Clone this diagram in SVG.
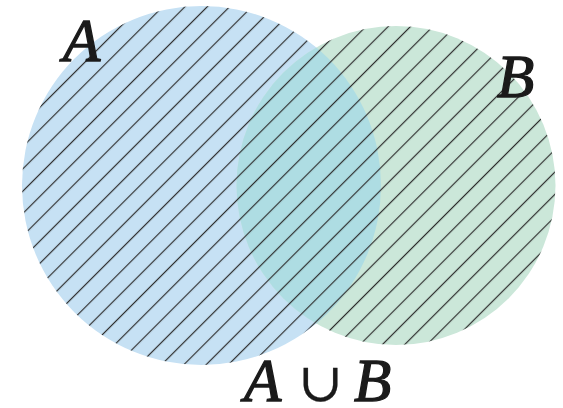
<svg xmlns="http://www.w3.org/2000/svg" width="563" height="408" viewBox="0 0 563 408">
  <style>
    .lbl { font-family: "Liberation Serif", "DejaVu Serif", serif; font-style: italic; font-size: 61px; fill: #1a1a1a; stroke: #1a1a1a; stroke-width: 1.3px; }
    .op { font-style: normal; font-family: "DejaVu Serif", "Liberation Serif", serif; font-size: 54px; stroke-width: 0.3px; }
  </style>
  <defs>
    <pattern id="hatch" patternUnits="userSpaceOnUse" width="20" height="15.77" patternTransform="rotate(-45)">
      <rect x="-1" y="8.8" width="22" height="1.2" fill="#2e2e2e"/>
    </pattern>
    <clipPath id="clipA"><circle cx="201.5" cy="185.5" r="179.5"/></clipPath>
    <clipPath id="clipUnion">
      <circle cx="201.5" cy="185.5" r="179.5"/>
      <circle cx="396" cy="185.5" r="159.5"/>
    </clipPath>
  </defs>
  <rect width="563" height="408" fill="#ffffff"/>
  <g id="set-A">
    <circle cx="201.5" cy="185.5" r="179.5" fill="#c6e1f4"/>
  </g>
  <g id="set-B">
    <circle cx="396" cy="185.5" r="159.5" fill="#cbe7d9"/>
  </g>
  <g id="overlap">
    <circle cx="396" cy="185.5" r="159.5" fill="#aedde3" clip-path="url(#clipA)"/>
  </g>
  <g id="hatching">
    <rect x="0" y="0" width="563" height="408" fill="url(#hatch)" clip-path="url(#clipUnion)"/>
  </g>
  <g id="labels">
    <text class="lbl" x="63" y="61">A</text>
    <text class="lbl" x="497" y="97">B</text>
    <text class="lbl" y="401"><tspan x="244">A</tspan><tspan class="op" x="298">∪</tspan><tspan x="354">B</tspan></text>
  </g>
</svg>
